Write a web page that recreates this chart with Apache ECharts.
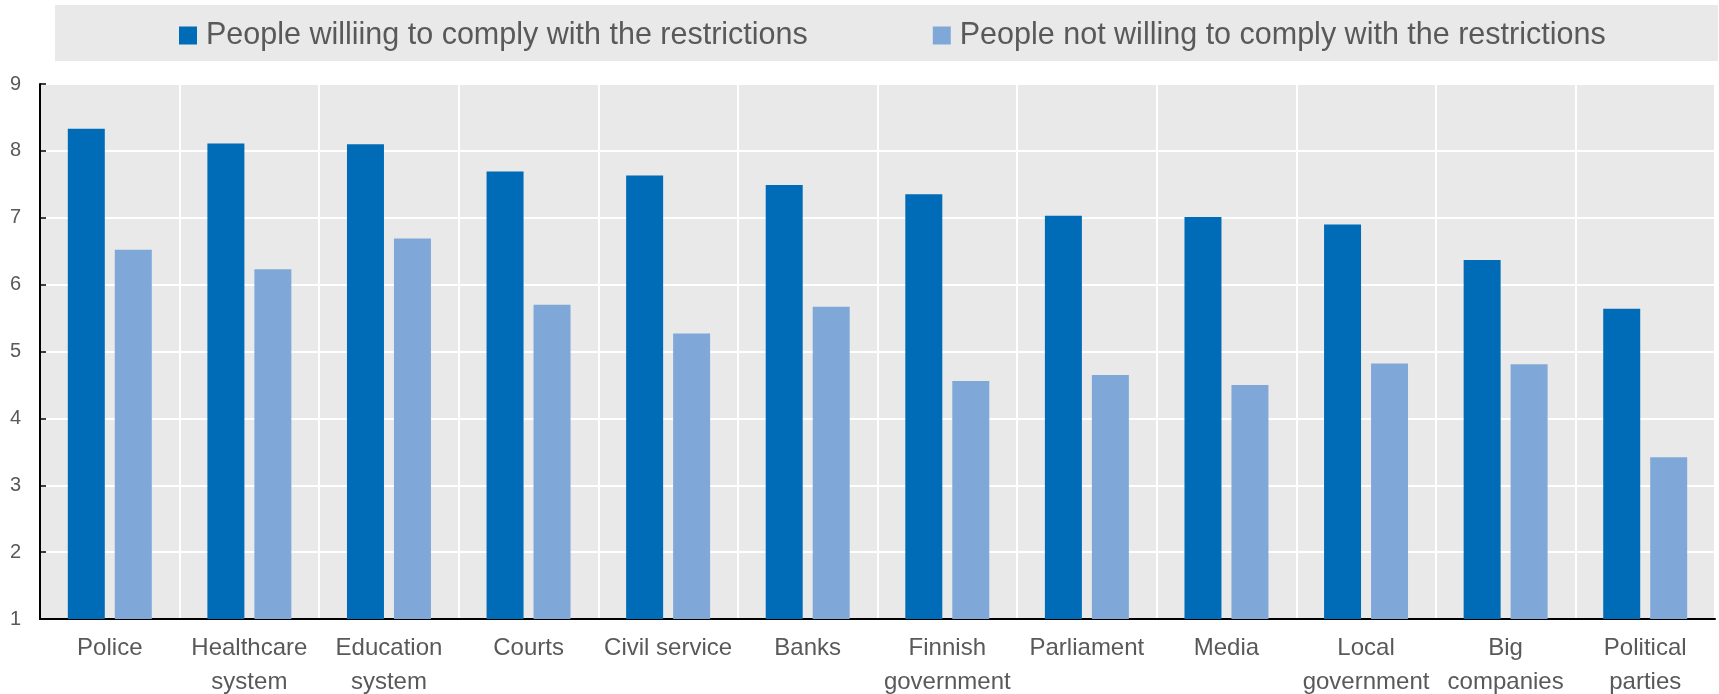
<!DOCTYPE html>
<html>
<head>
<meta charset="utf-8">
<script src="https://cdn.jsdelivr.net/npm/echarts@6/dist/echarts.min.js"></script>
<style>
  html, body { margin: 0; padding: 0; background: #ffffff; }
  #chartEle { width: 1719px; height: 694px; }
</style>
</head>
<body>
<div id="chartEle"></div>
<script>
// categories and values
var categories = ['Police', 'Healthcare\nsystem', 'Education\nsystem', 'Courts', 'Civil service', 'Banks',
    'Finnish\ngovernment', 'Parliament', 'Media', 'Local\ngovernment', 'Big\ncompanies', 'Political\nparties'];
var willingName = 'People williing to comply with the restrictions';
var notWillingName = 'People not willing to comply with the restrictions';
var willingValues = [8.33, 8.11, 8.10, 7.69, 7.63, 7.49, 7.35, 7.03, 7.01, 6.90, 6.37, 5.64];
var notWillingValues = [6.52, 6.23, 6.69, 5.70, 5.27, 5.67, 4.56, 4.65, 4.50, 4.82, 4.81, 3.42];
var yTicks = { min: 1, max: 9, interval: 1 };

var fontName = "'Liberation Sans', Arial, sans-serif";
var textColor = '#595959';

var myChart = echarts.init(document.getElementById('chartEle'));

var option = {
    animation: false,
    graphic: [
        {
            type: 'rect',
            left: 55,
            top: 5,
            z: -1,
            shape: { width: 1663, height: 56 },
            style: { fill: '#e9e9e9' }
        }
    ],
    legend: {
        left: 174,
        top: 15,
        width: 1530,
        itemWidth: 18,
        itemHeight: 18,
        itemGap: 125,
        icon: 'rect',
        textStyle: {
            fontFamily: fontName,
            fontSize: 30.5,
            color: textColor,
            padding: [0, 0, 0, 4]
        },
        data: [willingName, notWillingName]
    },
    grid: {
        left: 40,
        right: 4,
        top: 84,
        bottom: 75,
        outerBoundsMode: 'none',
        containLabel: false,
        show: true,
        backgroundColor: '#e9e9e9',
        borderWidth: 0
    },
    xAxis: {
        type: 'category',
        data: categories,
        axisLine: { lineStyle: { color: '#000000', width: 2 } },
        axisTick: { inside: true, length: 8, lineStyle: { color: '#000000', width: 1.5 } },
        splitLine: { show: true, lineStyle: { color: '#ffffff', width: 2 } },
        axisLabel: {
            fontFamily: fontName,
            fontSize: 24,
            lineHeight: 34,
            color: textColor,
            margin: 12,
            interval: 0
        }
    },
    yAxis: {
        type: 'value',
        min: yTicks.min,
        max: yTicks.max,
        interval: yTicks.interval,
        axisLine: { show: true, lineStyle: { color: '#000000', width: 2 } },
        axisTick: { show: true, inside: true, length: 6, lineStyle: { color: '#000000', width: 1.5 } },
        splitLine: { show: true, lineStyle: { color: '#ffffff', width: 2 } },
        axisLabel: {
            fontFamily: fontName,
            fontSize: 20,
            color: textColor,
            margin: 19
        }
    },
    series: [
        {
            name: willingName,
            type: 'bar',
            data: willingValues,
            barWidth: '26.5%',
            barGap: '27%',
            itemStyle: { color: '#006bb6' }
        },
        {
            name: notWillingName,
            type: 'bar',
            data: notWillingValues,
            barWidth: '26.5%',
            itemStyle: { color: '#7fa8d9' }
        }
    ]
};

myChart.setOption(option, true);
</script>
</body>
</html>
